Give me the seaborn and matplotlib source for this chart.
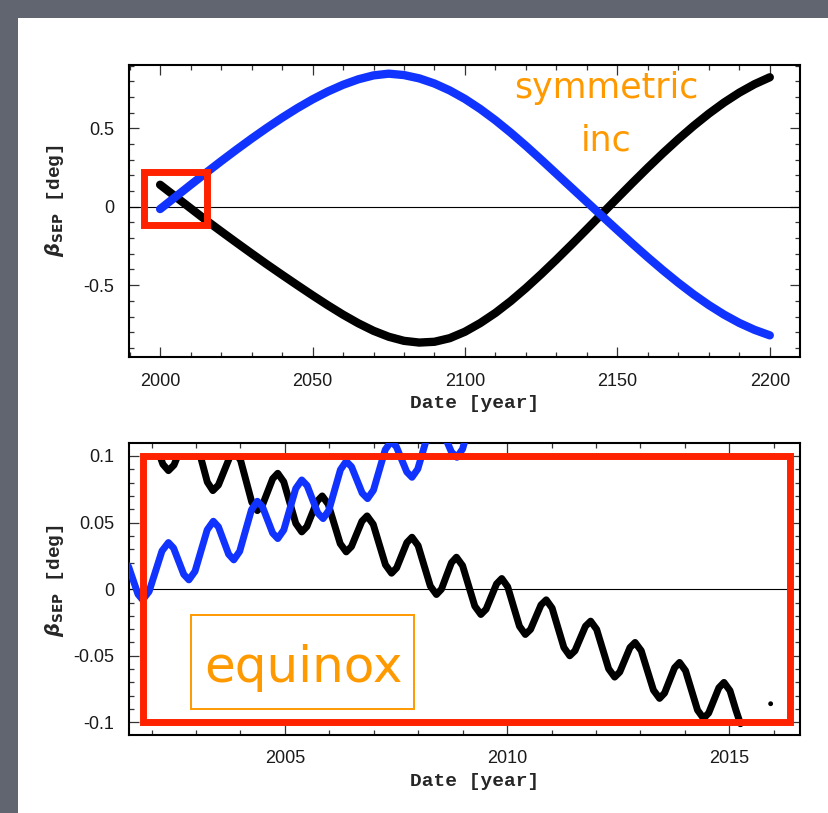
import matplotlib
matplotlib.use("Agg")
import matplotlib.pyplot as plt
from matplotlib.patches import Rectangle
from matplotlib.ticker import MultipleLocator
import seaborn as sns

# ---- long run 2000-2200, read every 5 years ----
long_years = list(range(2000, 2201, 5))
long_blue = [-0.015, 0.062, 0.139, 0.215, 0.290, 0.363, 0.434, 0.502, 0.567, 0.628,
             0.684, 0.734, 0.777, 0.812, 0.837, 0.848, 0.839, 0.818, 0.785, 0.741,
             0.687, 0.623, 0.551, 0.472, 0.388, 0.300, 0.210, 0.120, 0.030, -0.060,
             -0.149, -0.237, -0.323, -0.406, -0.485, -0.559, -0.627, -0.688, -0.741,
             -0.785, -0.820]
long_black = [0.140, 0.065, -0.010, -0.085, -0.157, -0.228, -0.298, -0.367, -0.434,
              -0.500, -0.565, -0.628, -0.688, -0.743, -0.791, -0.829, -0.855, -0.866,
              -0.861, -0.838, -0.797, -0.742, -0.677, -0.602, -0.519, -0.430, -0.337,
              -0.241, -0.143, -0.044, 0.055, 0.153, 0.249, 0.342, 0.431, 0.515, 0.593,
              0.664, 0.727, 0.781, 0.825]

# ---- zoom on the first years (annual wiggle) ----
zoom_blue_t = [2001.38, 2001.485, 2001.59, 2001.695, 2001.80, 2001.945, 2002.09, 2002.235,
               2002.38, 2002.495, 2002.61, 2002.725, 2002.84, 2002.978, 2003.115, 2003.253,
               2003.39, 2003.505, 2003.62, 2003.735, 2003.85, 2003.983, 2004.115, 2004.248,
               2004.38, 2004.495, 2004.61, 2004.725, 2004.84, 2004.975, 2005.11, 2005.245,
               2005.38, 2005.50, 2005.62, 2005.74, 2005.86, 2005.99, 2006.12, 2006.25,
               2006.38, 2006.50, 2006.62, 2006.74, 2006.86, 2006.993, 2007.125, 2007.258,
               2007.39, 2007.508, 2007.625, 2007.743, 2007.86, 2007.99, 2008.12, 2008.25,
               2008.38, 2008.503, 2008.625, 2008.748, 2008.87, 2008.998, 2009.125, 2009.253,
               2009.38]
zoom_blue_v = [0.021, 0.0168, 0.0065, -0.0038, -0.008, -0.0017, 0.0135, 0.0287,
               0.035, 0.0309, 0.021, 0.0111, 0.007, 0.0134, 0.029, 0.0446,
               0.051, 0.0468, 0.0365, 0.0262, 0.022, 0.0284, 0.044, 0.0596,
               0.066, 0.0619, 0.052, 0.0421, 0.038, 0.0444, 0.060, 0.0756,
               0.082, 0.0778, 0.0675, 0.0572, 0.053, 0.0593, 0.0745, 0.0897,
               0.096, 0.0919, 0.082, 0.0721, 0.068, 0.0743, 0.0895, 0.1047,
               0.111, 0.107, 0.0975, 0.088, 0.084, 0.0902, 0.105, 0.1198,
               0.126, 0.122, 0.1125, 0.103, 0.099, 0.1052, 0.12, 0.1348,
               0.141]

zoom_black_t = [2001.88, 2002.005, 2002.13, 2002.255, 2002.38, 2002.505, 2002.63, 2002.755,
                2002.88, 2003.005, 2003.13, 2003.255, 2003.38, 2003.505, 2003.63, 2003.755,
                2003.88, 2004.005, 2004.13, 2004.255, 2004.38, 2004.495, 2004.61, 2004.725,
                2004.84, 2004.975, 2005.11, 2005.245, 2005.38, 2005.495, 2005.61, 2005.725,
                2005.84, 2005.975, 2006.11, 2006.245, 2006.38, 2006.498, 2006.615, 2006.733,
                2006.85, 2006.988, 2007.125, 2007.263, 2007.40, 2007.515, 2007.63, 2007.745,
                2007.86, 2007.998, 2008.135, 2008.273, 2008.41, 2008.523, 2008.635, 2008.748,
                2008.86, 2008.998, 2009.135, 2009.273, 2009.41, 2009.528, 2009.645, 2009.763,
                2009.88, 2010.013, 2010.145, 2010.278, 2010.41, 2010.528, 2010.645, 2010.763,
                2010.88, 2011.013, 2011.145, 2011.278, 2011.41, 2011.528, 2011.645, 2011.763,
                2011.88, 2012.015, 2012.15, 2012.285, 2012.42, 2012.535, 2012.65, 2012.765,
                2012.88, 2013.018, 2013.155, 2013.293, 2013.43, 2013.543, 2013.655, 2013.768,
                2013.88, 2014.015, 2014.15, 2014.285, 2014.42, 2014.535, 2014.65, 2014.765,
                2014.88, 2015.015, 2015.15, 2015.25]
zoom_black_v = [0.122, 0.1172, 0.1055, 0.0938, 0.089, 0.0932, 0.1035, 0.1138,
                0.118, 0.1116, 0.096, 0.0804, 0.074, 0.0782, 0.0885, 0.0988,
                0.103, 0.0966, 0.081, 0.0654, 0.059, 0.0631, 0.073, 0.0829,
                0.087, 0.0806, 0.065, 0.0494, 0.043, 0.047, 0.0565, 0.066,
                0.070, 0.0638, 0.049, 0.0342, 0.028, 0.032, 0.0415, 0.051,
                0.055, 0.0487, 0.0335, 0.0183, 0.012, 0.016, 0.0255, 0.035,
                0.039, 0.0327, 0.0175, 0.0023, -0.004, 0.0, 0.010, 0.0199,
                0.024, 0.0177, 0.0025, -0.0127, -0.019, -0.015, -0.0055, 0.004,
                0.008, 0.0018, -0.013, -0.0278, -0.034, -0.0302, -0.021, -0.0118,
                -0.008, -0.0142, -0.029, -0.0438, -0.050, -0.0462, -0.037, -0.0278,
                -0.024, -0.0302, -0.045, -0.0598, -0.066, -0.0622, -0.053, -0.0438,
                -0.040, -0.0462, -0.061, -0.0758, -0.082, -0.078, -0.0685, -0.059,
                -0.055, -0.0612, -0.076, -0.0908, -0.097, -0.093, -0.0835, -0.074,
                -0.070, -0.0762, -0.091, -0.101]
stray_t = [2015.93]
stray_v = [-0.086]

long_xticks = [2000, 2050, 2100, 2150, 2200]
long_yticks = [-0.5, 0, 0.5]
long_ylabels = ["-0.5", "0", "0.5"]
zoom_xticks = [2005, 2010, 2015]
zoom_yticks = [-0.1, -0.05, 0, 0.05, 0.1]
zoom_ylabels = ["-0.1", "-0.05", "0", "0.05", "0.1"]

BLUE = "#1133ff"
RED = "#ff2200"
ORANGE = "#ff9900"
SLIDE = "#60656f"

sns.set_style("white")
plt.rcParams["font.family"] = ["Liberation Sans", "DejaVu Sans"]
plt.rcParams["axes.unicode_minus"] = False

fig = plt.figure(figsize=(8.29, 8.13), dpi=100, facecolor=SLIDE)
fig.add_artist(Rectangle((18 / 829, 0), 1, 1 - 18 / 813, transform=fig.transFigure,
                         facecolor="white", edgecolor="none", zorder=-10))

ax1 = fig.add_axes([0.156, 0.5605, 0.809, 0.3595])
ax2 = fig.add_axes([0.156, 0.0959, 0.809, 0.3588])


def style_axes(ax, xminor, yminor):
    for s in ax.spines.values():
        s.set_visible(True)
        s.set_color("black")
        s.set_linewidth(1.5)
    ax.xaxis.set_minor_locator(MultipleLocator(xminor))
    ax.yaxis.set_minor_locator(MultipleLocator(yminor))
    ax.tick_params(which="both", direction="in", top=True, right=True, bottom=True,
                   left=True, color="#333333", width=0.9, labelsize=13,
                   labelcolor="#1a1a1a", pad=11)
    ax.tick_params(which="major", length=7)
    ax.tick_params(which="minor", length=3.5)
    ax.axhline(0, color="black", lw=0.8, zorder=1)
    ax.set_xlabel("Date [year]", fontfamily="Liberation Mono", fontweight="bold", fontsize=14)
    ax.set_ylabel(r"$\boldsymbol{\beta}_{\mathbf{SEP}}$ [deg]", fontfamily="Liberation Mono",
                  fontweight="bold", fontsize=14)
    ax.grid(False)


# top panel
line_kw = dict(solid_capstyle="round", solid_joinstyle="round", sort=False, estimator=None)
sns.lineplot(x=long_years, y=long_black, ax=ax1, color="black", lw=6, zorder=3, **line_kw)
sns.lineplot(x=long_years, y=long_blue, ax=ax1, color=BLUE, lw=6, zorder=4, **line_kw)
ax1.set_xlim(1989.9, 2209.9)
ax1.set_ylim(-0.96, 0.903)
ax1.set_xticks(long_xticks)
ax1.set_yticks(long_yticks, labels=long_ylabels)
style_axes(ax1, 10, 0.1)
ax1.xaxis.set_label_coords(0.515, -0.13)
ax1.yaxis.set_label_coords(-0.095, 0.535)
ax1.add_patch(Rectangle((1994.6, -0.119), 20.9, 0.34, fill=False, edgecolor=RED,
                        lw=5, zorder=6))
ax1.text(0.711, 0.886, "symmetric", transform=ax1.transAxes, ha="center", va="baseline",
         color=ORANGE, fontsize=25, family="DejaVu Sans")
ax1.text(0.711, 0.709, "inc", transform=ax1.transAxes, ha="center", va="baseline",
         color=ORANGE, fontsize=25, family="DejaVu Sans")

# bottom panel
sns.lineplot(x=zoom_black_t, y=zoom_black_v, ax=ax2, color="black", lw=5, zorder=3, **line_kw)
black_line = ax2.lines[-1]
sns.lineplot(x=zoom_blue_t, y=zoom_blue_v, ax=ax2, color=BLUE, lw=5, zorder=4, **line_kw)
sns.scatterplot(x=stray_t, y=stray_v, ax=ax2, color="black", s=12, edgecolor="none", zorder=3)
ax2.set_xlim(2001.5, 2016.59)
ax2.set_ylim(-0.1095, 0.1095)
black_line.set_clip_path(Rectangle((2000, -0.2), 20, 0.3, transform=ax2.transData))
ax2.set_xticks(zoom_xticks)
ax2.set_yticks(zoom_yticks, labels=zoom_ylabels)
style_axes(ax2, 1, 0.01)
ax2.xaxis.set_label_coords(0.515, -0.13)
ax2.yaxis.set_label_coords(-0.095, 0.528)
ax2.add_patch(Rectangle((2001.81, -0.1), 14.56, 0.2, fill=False, edgecolor=RED,
                        lw=5, zorder=6))
ax2.add_patch(Rectangle((2002.89, -0.0897), 5.01, 0.0703, fill=False, edgecolor=ORANGE,
                        lw=1.4, zorder=5))
ax2.text(2005.42, -0.0697, "equinox", ha="center", va="baseline", color=ORANGE,
         fontsize=36, family="DejaVu Sans", zorder=5)

fig.savefig("out.png", dpi=100, facecolor=fig.get_facecolor())
